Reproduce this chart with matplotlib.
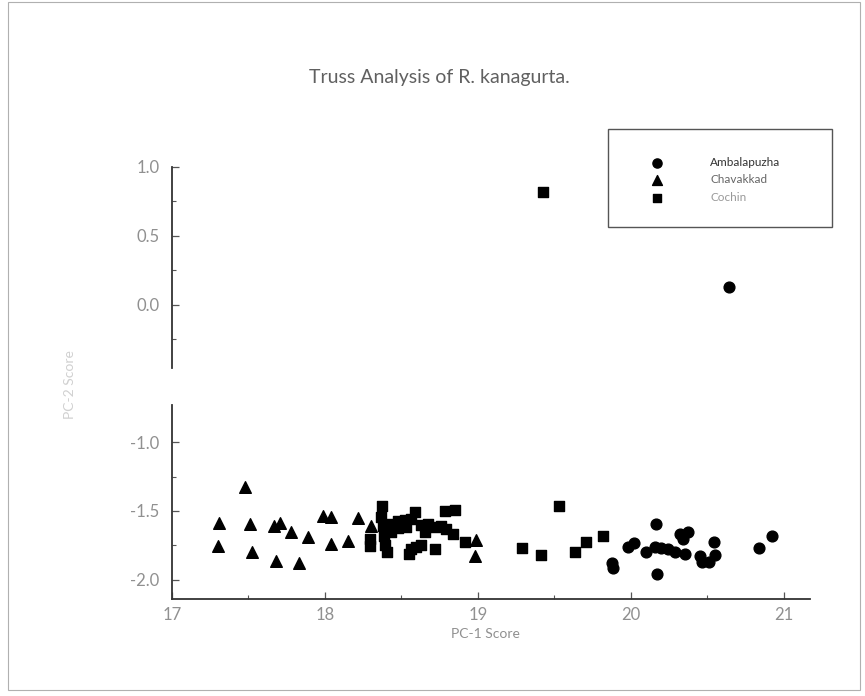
# Scatter of truss PCA scores for three R. kanagurta stocks
import matplotlib.pyplot as plt
from matplotlib.patches import Rectangle
from matplotlib.ticker import MultipleLocator, FixedLocator

# PC-1 / PC-2 scores
amb_x = [20.64, 19.875, 19.882, 19.98, 20.017, 20.161, 20.1, 20.154, 20.198,
         20.241, 20.285, 20.35, 20.167, 20.318, 20.372, 20.34, 20.542, 20.452,
         20.464, 20.513, 20.55, 20.84, 20.923]
amb_y = [0.124, -1.881, -1.913, -1.765, -1.733, -1.593, -1.802, -1.765, -1.773,
         -1.778, -1.802, -1.810, -1.956, -1.667, -1.650, -1.704, -1.728, -1.827,
         -1.872, -1.872, -1.822, -1.773, -1.684]

chav_x = [17.475, 17.31, 17.508, 17.665, 17.709, 17.776, 17.89, 17.988,
          17.302, 17.521, 17.678, 17.831, 18.04, 18.216, 18.303, 18.042,
          18.151, 18.985, 18.983]
chav_y = [-1.326, -1.587, -1.593, -1.613, -1.585, -1.654, -1.691, -1.536,
          -1.753, -1.798, -1.864, -1.876, -1.543, -1.548, -1.612, -1.743,
          -1.716, -1.709, -1.827]

coch_x = [19.427, 18.292, 18.292, 18.373, 18.364, 18.380, 18.386, 18.390,
          18.408, 18.434, 18.478, 18.521, 18.560, 18.586, 18.478, 18.532,
          18.630, 18.674, 18.651, 18.717, 18.761, 18.793, 18.837, 18.782,
          18.847, 18.913, 18.560, 18.597, 18.630, 18.717, 18.549, 18.434,
          19.529, 19.288, 19.414, 19.634, 19.708, 19.819]
coch_y = [0.818, -1.704, -1.753, -1.464, -1.543, -1.610, -1.679, -1.748,
          -1.797, -1.593, -1.575, -1.568, -1.556, -1.506, -1.625, -1.617,
          -1.600, -1.593, -1.654, -1.617, -1.610, -1.630, -1.667, -1.501,
          -1.494, -1.724, -1.778, -1.765, -1.748, -1.778, -1.815, -1.654,
          -1.464, -1.773, -1.820, -1.795, -1.724, -1.679]

y_ticks = [1.0, 0.5, 0.0, -1.0, -1.5, -2.0]
y_minor = [0.75, 0.25, -0.25, -1.25, -1.75]
x_ticks = [17, 18, 19, 20, 21]

FONT = ['Lato', 'DejaVu Sans']


def scatter_plot():
    '''
    Draws the three stocks as black markers with a broken PC-2 axis,
    styled like the old scanned printout.
    '''
    fig = plt.figure(figsize=(8.65, 6.96), dpi=100)
    ax = fig.add_axes([0.1988, 0.1394, 0.7376, 0.6207])

    # Data points
    ax.scatter(amb_x, amb_y, marker='o', s=60, color='black',
               label='Ambalapuzha', zorder=3)
    ax.scatter(chav_x, chav_y, marker='^', s=70, color='black',
               label='Chavakkad', zorder=3)
    ax.scatter(coch_x, coch_y, marker='s', s=55, color='black',
               label='Cochin', zorder=3)

    ax.set_xlim(17, 21.17)
    ax.set_ylim(-2.14, 1.0)

    # Only bottom axis as a spine, the left one is drawn broken
    for side in ['top', 'right', 'left']:
        ax.spines[side].set_visible(False)
    ax.spines['bottom'].set_color('#333333')
    ax.spines['bottom'].set_linewidth(1.3)
    ax.plot([17, 17], [1.0, -0.46], color='#333333', lw=1.3,
            clip_on=False, zorder=4)
    ax.plot([17, 17], [-0.73, -2.14], color='#333333', lw=1.3,
            clip_on=False, zorder=4)

    # Ticks
    ax.xaxis.set_major_locator(FixedLocator(x_ticks))
    ax.xaxis.set_minor_locator(MultipleLocator(0.5))
    ax.yaxis.set_major_locator(FixedLocator(y_ticks))
    ax.yaxis.set_minor_locator(FixedLocator(y_minor))
    ax.tick_params(which='both', direction='in', color='#555555')
    ax.tick_params(which='major', length=5, width=0.9)
    ax.tick_params(which='minor', length=3, width=0.8)
    ax.tick_params(axis='y', pad=9)
    ax.tick_params(axis='x', pad=6)
    ax.set_xticklabels([str(t) for t in x_ticks])
    ax.set_yticklabels(['%.1f' % t for t in y_ticks])
    for lab in ax.get_xticklabels() + ax.get_yticklabels():
        lab.set_family(FONT)
        lab.set_fontsize(12)
        lab.set_color('#909090')

    # Title and axis labels
    fig.text(0.508, 1 - 77 / 696, 'Truss Analysis of R. kanagurta.',
             ha='center', va='center', fontsize=14, color='#606060',
             family=FONT)
    fig.text(485 / 865, 1 - 634 / 696, 'PC-1 Score', ha='center',
             va='center', fontsize=10, color='#909090', family=FONT)
    fig.text(70 / 865, 1 - 385 / 696, 'PC-2 Score', ha='center',
             va='center', rotation=90, fontsize=10, color='#d0d0d0',
             family=FONT)

    # Legend box
    fig.patches.append(Rectangle((608 / 865, 1 - 227 / 696),
                                 224 / 865, 98 / 696,
                                 transform=fig.transFigure, fill=False,
                                 edgecolor='#555555', lw=1.0))
    leg = ax.legend(loc='upper left', bbox_to_anchor=(651 / 865, 1 - 157 / 696),
                    bbox_transform=fig.transFigure, frameon=False,
                    borderpad=0, borderaxespad=0, handlelength=1.0,
                    handletextpad=4.0, labelspacing=0.55, markerscale=0.85,
                    prop={'family': FONT, 'size': 8.5})
    for text, col in zip(leg.get_texts(), ['#333333', '#666666', '#999999']):
        text.set_color(col)

    # Scan frame round the picture
    fig.patches.append(Rectangle((8 / 865, 6 / 696), 852 / 865, 688 / 696,
                                 transform=fig.transFigure, fill=False,
                                 edgecolor='#b0b0b0', lw=0.8))

    plt.savefig('out.png', dpi=100)


def main():
    scatter_plot()


if __name__ == "__main__":
    main()
